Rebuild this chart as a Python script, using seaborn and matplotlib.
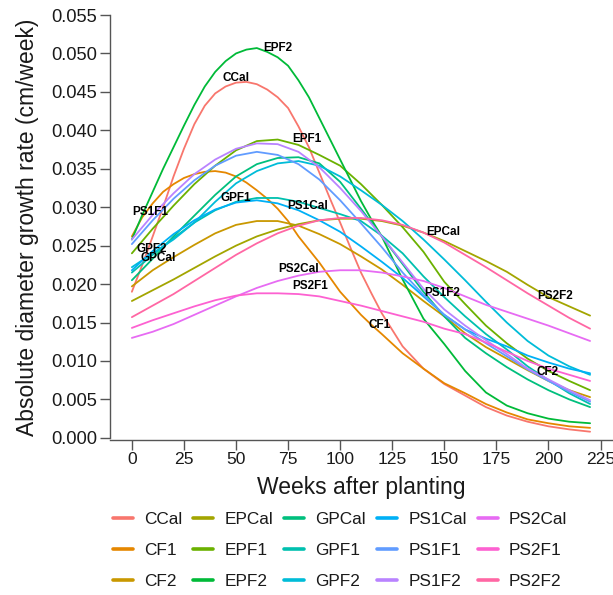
import numpy as np
import pandas as pd
import matplotlib
matplotlib.use("Agg")
import matplotlib.pyplot as plt
import seaborn as sns

weeks = list(range(0, 221, 10))
weeks_fine = list(range(0, 121, 5)) + list(range(130, 221, 10))

CCal   = [0.0190, 0.0225, 0.0262, 0.0300, 0.0340, 0.0376, 0.0408, 0.0432, 0.0448, 0.0457, 0.0462, 0.0463, 0.0460,
          0.0453, 0.0443, 0.0429, 0.0405, 0.0378, 0.0345, 0.0312, 0.0280, 0.0247, 0.0215, 0.0188, 0.0162,
          0.0119, 0.0090, 0.0070, 0.0055, 0.0040, 0.0029, 0.0021, 0.0015, 0.0011, 0.0008]
CF1    = [0.0262, 0.0287, 0.0305, 0.0320, 0.0330, 0.0338, 0.0343, 0.0346, 0.0347, 0.0345, 0.0340, 0.0332, 0.0322,
          0.0311, 0.0298, 0.0282, 0.0262, 0.0245, 0.0228, 0.0209, 0.0190, 0.0175, 0.0160, 0.0147, 0.0135,
          0.0110, 0.0090, 0.0071, 0.0058, 0.0044, 0.0033, 0.0024, 0.0019, 0.0015, 0.0013]
CF2    = [0.0197, 0.0218, 0.0235, 0.0251, 0.0266, 0.0277, 0.0282, 0.0282, 0.0276, 0.0265, 0.0252, 0.0236, 0.0219, 0.0199, 0.0178, 0.0158, 0.0136, 0.0118, 0.0103, 0.0088, 0.0074, 0.0062, 0.0053]
EPCal  = [0.0178, 0.0192, 0.0206, 0.0221, 0.0236, 0.0250, 0.0262, 0.0271, 0.0278, 0.0283, 0.0285, 0.0285, 0.0282, 0.0276, 0.0267, 0.0256, 0.0243, 0.0230, 0.0216, 0.0199, 0.0183, 0.0171, 0.0159]
EPF1   = [0.0240, 0.0272, 0.0302, 0.0330, 0.0354, 0.0374, 0.0386, 0.0388, 0.0381, 0.0368, 0.0354, 0.0330, 0.0303, 0.0274, 0.0242, 0.0203, 0.0174, 0.0146, 0.0123, 0.0103, 0.0087, 0.0074, 0.0062]
EPF2   = [0.0258, 0.0290, 0.0320, 0.0350, 0.0378, 0.0406, 0.0433, 0.0457, 0.0476, 0.0490, 0.0500, 0.0505, 0.0507,
          0.0502, 0.0495, 0.0484, 0.0465, 0.0443, 0.0416, 0.0389, 0.0362, 0.0335, 0.0308, 0.0284, 0.0262,
          0.0206, 0.0155, 0.0122, 0.0087, 0.0059, 0.0042, 0.0032, 0.0025, 0.0021, 0.0019]
GPCal  = [0.0205, 0.0233, 0.0262, 0.0289, 0.0316, 0.0340, 0.0356, 0.0364, 0.0365, 0.0357, 0.0333, 0.0298, 0.0262, 0.0226, 0.0190, 0.0158, 0.0130, 0.0110, 0.0092, 0.0076, 0.0062, 0.0050, 0.0040]
GPF1   = [0.0215, 0.0238, 0.0260, 0.0280, 0.0296, 0.0307, 0.0312, 0.0312, 0.0307, 0.0299, 0.0291, 0.0282, 0.0263, 0.0240, 0.0210, 0.0183, 0.0158, 0.0135, 0.0115, 0.0093, 0.0075, 0.0058, 0.0044]
GPF2   = [0.0222, 0.0240, 0.0258, 0.0280, 0.0307, 0.0331, 0.0347, 0.0357, 0.0360, 0.0354, 0.0340, 0.0322, 0.0303, 0.0282, 0.0258, 0.0232, 0.0205, 0.0177, 0.0150, 0.0126, 0.0107, 0.0093, 0.0082]
PS1Cal = [0.0218, 0.0243, 0.0265, 0.0283, 0.0297, 0.0306, 0.0309, 0.0305, 0.0296, 0.0283, 0.0268, 0.0249, 0.0229, 0.0208, 0.0184, 0.0160, 0.0141, 0.0129, 0.0119, 0.0107, 0.0098, 0.0090, 0.0084]
PS1F1  = [0.0252, 0.0283, 0.0311, 0.0335, 0.0354, 0.0367, 0.0372, 0.0368, 0.0356, 0.0336, 0.0309, 0.0279, 0.0248, 0.0215, 0.0186, 0.0160, 0.0141, 0.0123, 0.0106, 0.0089, 0.0074, 0.0060, 0.0047]
PS1F2  = [0.0258, 0.0290, 0.0318, 0.0343, 0.0362, 0.0376, 0.0383, 0.0382, 0.0372, 0.0352, 0.0325, 0.0295, 0.0262, 0.0228, 0.0194, 0.0167, 0.0146, 0.0127, 0.0109, 0.0090, 0.0076, 0.0062, 0.0049]
PS2Cal = [0.0130, 0.0138, 0.0148, 0.0160, 0.0172, 0.0184, 0.0195, 0.0204, 0.0211, 0.0216, 0.0218, 0.0218, 0.0215, 0.0210, 0.0204, 0.0195, 0.0184, 0.0173, 0.0164, 0.0155, 0.0146, 0.0136, 0.0126]
PS2F1  = [0.0143, 0.0153, 0.0162, 0.0171, 0.0179, 0.0185, 0.0188, 0.0188, 0.0187, 0.0184, 0.0178, 0.0172, 0.0165, 0.0158, 0.0151, 0.0142, 0.0135, 0.0124, 0.0112, 0.0100, 0.0090, 0.0082, 0.0074]
PS2F2  = [0.0157, 0.0172, 0.0187, 0.0204, 0.0221, 0.0238, 0.0253, 0.0266, 0.0276, 0.0283, 0.0286, 0.0286, 0.0283, 0.0277, 0.0267, 0.0254, 0.0238, 0.0222, 0.0205, 0.0188, 0.0172, 0.0156, 0.0142]

series_names = ["CCal", "CF1", "CF2", "EPCal", "EPF1", "EPF2", "GPCal", "GPF1", "GPF2",
                "PS1Cal", "PS1F1", "PS1F2", "PS2Cal", "PS2F1", "PS2F2"]
series_vals = [CCal, CF1, CF2, EPCal, EPF1, EPF2, GPCal, GPF1, GPF2,
               PS1Cal, PS1F1, PS1F2, PS2Cal, PS2F1, PS2F2]
colors = ["#F8766D", "#E58700", "#C99800", "#A3A500", "#6BB100", "#00BA38", "#00BF7D", "#00C0AF",
          "#00BCD8", "#00B0F6", "#619CFF", "#B983FF", "#E76BF3", "#FD61D1", "#FF67A4"]

# curve label anchors (week, value)
label_names = ["EPF2", "CCal", "EPF1", "PS1F1", "GPF1", "PS1Cal", "GPF2", "GPCal", "EPCal",
               "PS2Cal", "PS2F1", "PS1F2", "PS2F2", "CF1", "CF2"]
label_x = [70, 50, 84, 9, 50, 84.6, 9.6, 12.5, 149.5, 80, 85.6, 149, 203, 119, 199.5]
label_y = [0.0507, 0.0468, 0.0389, 0.0294, 0.0312, 0.0302, 0.0246, 0.0234, 0.0268,
           0.0220, 0.0198, 0.0189, 0.0185, 0.0147, 0.0086]

x_ticks = [0, 25, 50, 75, 100, 125, 150, 175, 200, 225]
y_ticks = [0.000, 0.005, 0.010, 0.015, 0.020, 0.025, 0.030, 0.035, 0.040, 0.045, 0.050, 0.055]

frames = []
for name, vals in zip(series_names, series_vals):
    wk = weeks_fine if len(vals) == len(weeks_fine) else weeks
    frames.append(pd.DataFrame({"week": wk, "rate": vals, "series": name}))
df = pd.concat(frames, ignore_index=True)

sns.set_style("white")
plt.rcParams["font.family"] = ["Liberation Sans", "DejaVu Sans"]

fig = plt.figure(figsize=(6.13, 5.95), dpi=100)
ax = fig.add_axes([110 / 613, 1 - 440 / 595, 1 - 110 / 613, (440 - 15) / 595])

sns.lineplot(data=df, x="week", y="rate", hue="series", hue_order=series_names,
             palette=dict(zip(series_names, colors)), linewidth=1.3, ax=ax, legend=True)
for ln in ax.get_lines():
    ln.set_solid_joinstyle("round")

for name, lx, ly in zip(label_names, label_x, label_y):
    ax.text(lx, ly, name, ha="center", va="center", fontsize=8.5, fontweight="bold", color="black")

ax.set_xlim(-10.5, 231)
ax.set_ylim(-0.00028, 0.055)
ax.set_xticks(x_ticks)
ax.set_yticks(y_ticks)
ax.set_yticklabels([f"{v:.3f}" for v in y_ticks])
ax.tick_params(axis="both", direction="out", length=7, width=1, color="#555555",
               labelcolor="#1a1a1a", pad=2, left=True, bottom=True)
ax.tick_params(axis="y", labelsize=13.2)
ax.tick_params(axis="x", labelsize=12.6)
for s in ["top", "right"]:
    ax.spines[s].set_visible(False)
for s in ["left", "bottom"]:
    ax.spines[s].set_color("#555555")
    ax.spines[s].set_linewidth(1.0)
ax.spines["left"].set_bounds(0, 0.055)

ax.set_xlabel("Weeks after planting", fontsize=16.5, color="#1a1a1a", labelpad=6)
ax.set_ylabel("Absolute diameter growth rate (cm/week)", fontsize=16.5, color="#1a1a1a", labelpad=9)

sns.move_legend(ax, "upper left", bbox_to_anchor=(113 / 613, 1 - 512 / 595),
                bbox_transform=fig.transFigure, ncol=5, frameon=False, title=None,
                fontsize=12.4, handlelength=1.15, handletextpad=0.65, columnspacing=0.65,
                labelspacing=0.92, borderpad=0, borderaxespad=0)
leg = ax.get_legend()
for h in leg.get_lines():
    h.set_linewidth(2.6)
for t in leg.get_texts():
    t.set_color("#1a1a1a")

fig.savefig("out.png", dpi=100)
